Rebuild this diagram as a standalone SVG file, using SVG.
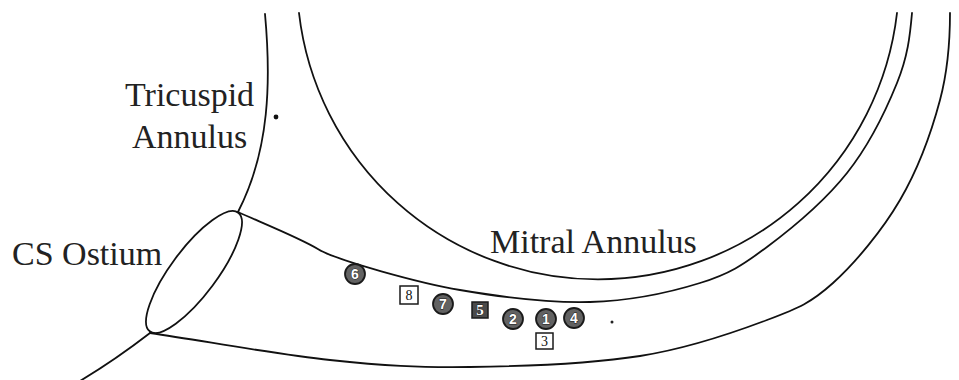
<svg xmlns="http://www.w3.org/2000/svg" width="959" height="380" viewBox="0 0 959 380">
  <style>
    .wall { fill: none; stroke: #111; stroke-width: 1.8; stroke-linecap: round; }
    .label { font-family: "Liberation Serif", "Times New Roman", serif; font-size: 34px; fill: #222; }
    .site { fill: #626262; stroke: #1a1a1a; stroke-width: 1.8; }
    .site-num { font-family: "Liberation Sans", Arial, sans-serif; font-weight: bold; font-size: 14px; fill: #fff; stroke: #1a1a1a; stroke-width: 0.9; paint-order: stroke; text-anchor: middle; }
    .box { fill: #fff; stroke: #1a1a1a; stroke-width: 1.5; }
    .box-dark { fill: #4a4a4a; stroke: #1a1a1a; stroke-width: 1.5; }
    .box-num { font-family: "Liberation Serif", "Times New Roman", serif; font-size: 14px; fill: #111; text-anchor: middle; }
    .box-num-light { font-family: "Liberation Serif", "Times New Roman", serif; font-weight: bold; font-size: 15px; fill: #fff; stroke: #1a1a1a; stroke-width: 0.8; paint-order: stroke; text-anchor: middle; }
  </style>

  <!-- anatomical outlines -->
  <g id="outlines">
    <!-- tricuspid side of the right atrium -->
    <path class="wall" d="M265,14 C271,80 270,150 238,212"/>
    <path class="wall" d="M150,333 C128,350 105,366 80,381"/>
    <!-- mitral annulus -->
    <path class="wall" d="M299,13 A301,301 0 0 0 897,13"/>
    <!-- coronary sinus: upper wall -->
    <path class="wall" d="M238,212 C260,222 300,238 318.3,249.2 S 420.8,283.3 460,290 S 550,303.2 590,302 S 670.5,292.2 700,283 S 742.5,265.3 767,247 S 825.3,200.3 847,173 S 886.2,109.7 897,83 S 910,36 912,13"/>
    <!-- coronary sinus: lower wall -->
    <path class="wall" d="M150,333 C210,342 276.7,354.3 330,360 S 418.3,367.7 470,367 S 590.5,363.8 640,356 S 734.8,332.2 767,320 S 810.8,303 833,283 S 882.2,230.5 900,200 S 931.7,131.2 940,100 S 950,40 950,13"/>
  </g>

  <!-- coronary sinus ostium -->
  <g id="cs-ostium">
    <ellipse class="wall" cx="194" cy="272" rx="74" ry="23" transform="rotate(-53.3 194 272)"/>
    <text class="label" x="12" y="265">CS Ostium</text>
  </g>

  <g id="tricuspid-annulus">
    <text class="label" x="125" y="106">Tricuspid</text>
    <text class="label" x="132" y="148">Annulus</text>
    <circle cx="276" cy="117" r="2.4" fill="#111"/>
  </g>

  <g id="mitral-annulus">
    <text class="label" x="490" y="253">Mitral Annulus</text>
  </g>

  <!-- recording sites -->
  <g id="site-6">
    <circle class="site" cx="355" cy="274" r="10"/>
    <text class="site-num" x="355" y="279">6</text>
  </g>
  <g id="site-8">
    <rect class="box" x="400" y="286" width="18" height="18"/>
    <text class="box-num" x="409" y="300">8</text>
  </g>
  <g id="site-7">
    <circle class="site" cx="443" cy="304" r="10"/>
    <text class="site-num" x="443" y="309">7</text>
  </g>
  <g id="site-5">
    <rect class="box-dark" x="472" y="302" width="16" height="16"/>
    <text class="box-num-light" x="480" y="315">5</text>
  </g>
  <g id="site-2">
    <circle class="site" cx="513" cy="319" r="10"/>
    <text class="site-num" x="513" y="324">2</text>
  </g>
  <g id="site-1">
    <circle class="site" cx="546" cy="319" r="10"/>
    <text class="site-num" x="546" y="324">1</text>
  </g>
  <g id="site-4">
    <circle class="site" cx="574" cy="318" r="10"/>
    <text class="site-num" x="574" y="323">4</text>
  </g>
  <g id="site-3">
    <rect class="box" x="536" y="333" width="17" height="16"/>
    <text class="box-num" x="544.5" y="346">3</text>
  </g>
  <circle id="marker-dot" cx="612" cy="322" r="1.5" fill="#222"/>
</svg>
